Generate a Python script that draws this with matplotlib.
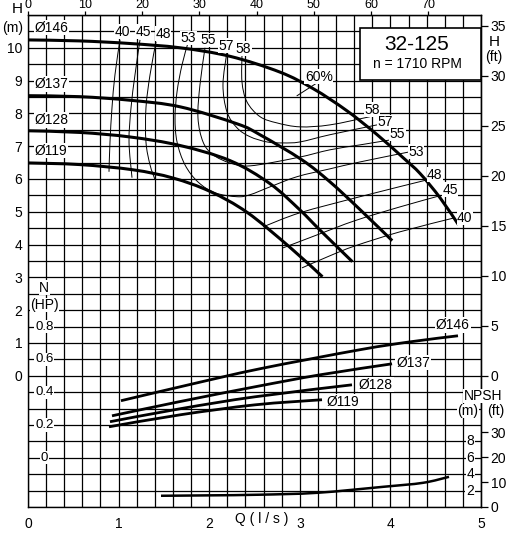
import numpy as np
import matplotlib.pyplot as plt
from matplotlib.patches import Rectangle, PathPatch
from matplotlib.path import Path

plt.rcParams['font.family'] = ['Liberation Sans', 'DejaVu Sans']
plt.rcParams['font.size'] = 10

# H-Q curves, Q in l/s, H in m
q146 = [0, 0.57, 1.13, 1.68, 2.23, 2.78, 3.15, 3.52, 3.85, 4.14, 4.33, 4.55, 4.75]
h146 = [10.24, 10.21, 10.13, 10.0, 9.74, 9.26, 8.75, 8.08, 7.36, 6.65, 6.16, 5.42, 4.61]
q137 = [0, 0.57, 1.13, 1.68, 2.31, 2.56, 3.02, 3.33, 3.66, 4.02]
h137 = [8.54, 8.51, 8.40, 8.20, 7.68, 7.35, 6.59, 5.92, 5.08, 4.12]
q128 = [0, 0.57, 1.13, 1.68, 2.23, 2.67, 3.00, 3.22, 3.58]
h128 = [7.47, 7.42, 7.28, 7.02, 6.56, 5.86, 5.06, 4.45, 3.48]
q119 = [0, 0.57, 1.16, 1.60, 2.01, 2.42, 2.89, 3.25]
h119 = [6.49, 6.44, 6.28, 6.03, 5.62, 4.98, 3.92, 3.02]
h_curves = [(q146, h146), (q137, h137), (q128, h128), (q119, h119)]
diam_labels = ['Ø146', 'Ø137', 'Ø128', 'Ø119']
diam_label_h = [10.61, 8.90, 7.80, 6.86]

# efficiency iso-lines (Q l/s, H m)
eff_lines = {
    '40L': ([1.015, 0.960, 0.927, 0.905, 0.894], [10.24, 9.18, 8.17, 7.13, 6.22]),
    '45L': ([1.236, 1.181, 1.137, 1.115, 1.148], [10.24, 9.18, 8.17, 7.13, 6.04]),
    '48L': ([1.413, 1.347, 1.302, 1.302, 1.347, 1.402], [10.18, 9.18, 8.17, 7.13, 6.43, 5.98]),
    '53': ([1.766, 1.700, 1.645, 1.623, 1.645, 1.733, 1.876, 2.064, 2.307, 2.450, 2.671, 2.969, 3.333, 3.664, 4.216],
           [10.15, 9.48, 8.66, 7.87, 7.13, 6.43, 5.91, 5.58, 5.46, 5.52, 5.76, 6.07, 6.31, 6.52, 6.83]),
    '55': ([1.954, 1.898, 1.876, 1.932, 2.042, 2.230, 2.450, 2.969, 3.333, 3.664, 4.018],
           [10.00, 8.87, 7.87, 7.13, 6.74, 6.49, 6.40, 6.65, 6.89, 7.04, 7.20]),
    '57': ([2.196, 2.152, 2.196, 2.307, 2.450, 2.638, 2.815, 3.002, 3.333, 3.852],
           [9.88, 8.87, 8.05, 7.56, 7.29, 7.13, 7.10, 7.13, 7.35, 7.65]),
    '58': ([2.362, 2.362, 2.417, 2.561, 2.748, 3.002, 3.333, 3.775],
           [9.79, 8.96, 8.35, 7.90, 7.71, 7.59, 7.65, 7.90]),
    '48R': ([2.594, 3.002, 3.664, 4.415], [4.54, 4.97, 5.46, 5.98]),
    '45R': ([2.815, 3.223, 3.609, 4.106, 4.547], [3.90, 4.33, 4.73, 5.15, 5.49]),
    '40R': ([3.024, 3.333, 3.609, 4.106, 4.713], [3.29, 3.66, 3.96, 4.39, 4.82]),
}
eff_top = ['40', '45', '48', '53', '55', '57', '58']
eff_top_q = [1.04, 1.27, 1.49, 1.77, 1.99, 2.19, 2.38]
eff_top_h = [10.49, 10.49, 10.43, 10.30, 10.24, 10.06, 9.97]
eff_right = ['58', '57', '55', '53', '48', '45', '40']
eff_right_q = [3.80, 3.94, 4.08, 4.28, 4.49, 4.66, 4.82]
eff_right_h = [8.11, 7.74, 7.38, 6.83, 6.13, 5.67, 4.82]
mark60_q = [2.97, 3.19]
mark60_h = [8.54, 8.93]

# power curves, N in HP
pq146 = [1.026, 1.788, 2.561, 3.664, 4.216, 4.746]
pn146 = [0.348, 0.447, 0.543, 0.659, 0.707, 0.744]
pq137 = [0.927, 1.678, 2.506, 3.223, 4.018]
pn137 = [0.256, 0.343, 0.433, 0.506, 0.573]
pq128 = [0.905, 1.678, 2.506, 3.576]
pn128 = [0.220, 0.299, 0.372, 0.445]
pq119 = [0.894, 1.678, 2.506, 3.245]
pn119 = [0.189, 0.262, 0.323, 0.354]
p_curves = [(pq146, pn146), (pq137, pn137), (pq128, pn128), (pq119, pn119)]
p_label_q = [4.69, 4.25, 3.84, 3.48]
p_label_n = [0.81, 0.58, 0.446, 0.342]

# NPSH curve, m
npsh_q = [1.468, 2.0, 2.561, 3.190, 3.918, 4.360, 4.647]
npsh_m = [1.37, 1.42, 1.50, 1.73, 2.46, 2.95, 3.68]


def smooth(xs, ys):
    # Catmull-Rom through the read points, drawn as cubic Bezier
    pts = np.column_stack([xs, ys])
    verts = [pts[0]]
    codes = [Path.MOVETO]
    for i in range(len(pts) - 1):
        p0 = pts[i - 1] if i > 0 else pts[i]
        p1 = pts[i]
        p2 = pts[i + 1]
        p3 = pts[i + 2] if i + 2 < len(pts) else pts[i + 1]
        verts += [p1 + (p2 - p0) / 6, p2 - (p3 - p1) / 6, p2]
        codes += [Path.CURVE4] * 3
    return Path(verts, codes)


def draw(axis, xs, ys, lw, z=3):
    axis.add_patch(PathPatch(smooth(xs, ys), fill=False, edgecolor='black',
                             lw=lw, zorder=z, capstyle='butt'))


fig = plt.figure(figsize=(5.13, 5.33), dpi=100)
ax = fig.add_axes([28/513, 1-507/533, 453/513, 492/533])
ax.set_xlim(0, 5)
ax.set_ylim(-4, 11)

ax.set_xticks(range(0, 6))
ax.set_xticks(np.arange(0, 5.01, 0.2), minor=True)
ax.set_yticks(range(0, 11))
ax.set_yticks(np.arange(-4, 11.01, 0.5), minor=True)
ax.grid(which='both', color='black', lw=0.9)
ax.tick_params(which='both', length=0)
ax.tick_params(axis='x', pad=7)
ax.tick_params(axis='y', pad=4)
for s in ax.spines.values():
    s.set_linewidth(1.0)

# top axis in US gpm
top = ax.secondary_xaxis('top', functions=(lambda q: q*15.85, lambda g: g/15.85))
top.set_xticks(range(0, 80, 10))
top.tick_params(length=3, width=0.9, pad=0, labelsize=9)

# right axes: H ft and NPSH ft
rh = ax.secondary_yaxis('right', functions=(lambda h: h/0.3048, lambda f: f*0.3048))
rh.set_yticks(range(0, 40, 5))
rh.tick_params(length=5, width=0.9, pad=2)
rn = ax.secondary_yaxis('right', functions=(lambda h: (h+4)/0.0762, lambda f: f*0.0762-4))
rn.set_yticks([0, 10, 20, 30])
rn.tick_params(length=5, width=0.9, pad=2)

for (q, h) in h_curves:
    draw(ax, q, h, 2.2, z=4)
for lab, hh in zip(diam_labels, diam_label_h):
    ax.text(0.07, hh, lab, ha='left', va='center', fontsize=10,
            bbox=dict(facecolor='white', edgecolor='none', pad=0.5), zorder=5)

for key, (q, h) in eff_lines.items():
    draw(ax, q, h, 0.7)
for lab, q, h in zip(eff_top, eff_top_q, eff_top_h):
    ax.text(q, h, lab, ha='center', va='center', fontsize=10,
            bbox=dict(facecolor='white', edgecolor='none', pad=0.3), zorder=5)
for lab, q, h in zip(eff_right, eff_right_q, eff_right_h):
    ax.text(q, h, lab, ha='center', va='center', fontsize=10,
            bbox=dict(facecolor='white', edgecolor='none', pad=0.3), zorder=5)
ax.plot(mark60_q, mark60_h, color='black', lw=0.7, zorder=3)
ax.text(3.21, 9.12, '60%', ha='center', va='center', fontsize=10,
        bbox=dict(facecolor='white', edgecolor='none', pad=0.3), zorder=5)

# type box
ax.add_patch(Rectangle((3.664, 9.02), 5 - 3.664, 10.61 - 9.02, facecolor='white',
                       edgecolor='black', lw=1.2, zorder=6))
ax.text(4.29, 10.11, '32-125', ha='center', va='center', fontsize=15, zorder=7)
ax.text(4.30, 9.51, 'n = 1710 RPM', ha='center', va='center', fontsize=10, zorder=7)

# power axis
axn = ax.twinx()
axn.set_ylim(-0.3, 2.7)
axn.axis('off')
for (q, n) in p_curves:
    draw(axn, q, n, 2.0)
for lab, q, n in zip(diam_labels, p_label_q, p_label_n):
    axn.text(q, n, lab, ha='center', va='center', fontsize=10,
             bbox=dict(facecolor='white', edgecolor='none', pad=0.5))
for v in [0, 0.2, 0.4, 0.6, 0.8]:
    axn.text(0.18, v, f'{v:g}', ha='center', va='center', fontsize=9.5,
             bbox=dict(facecolor='white', edgecolor='none', pad=0.5))
axn.text(0.18, 1.037, 'N', ha='center', va='center', fontsize=10,
         bbox=dict(facecolor='white', edgecolor='none', pad=0.2))
axn.text(0.18, 0.933, '(HP)', ha='center', va='center', fontsize=10,
         bbox=dict(facecolor='white', edgecolor='none', pad=0.2))

# NPSH axis
axp = ax.twinx()
axp.set_ylim(0, 60)
axp.axis('off')
draw(axp, npsh_q, npsh_m, 1.8)
for v in [2, 4, 6, 8]:
    axp.text(4.88, v, str(v), ha='center', va='center', fontsize=10,
             bbox=dict(facecolor='white', edgecolor='none', pad=0.5))

fig.text(17/513, 1-9/533, 'H', ha='center', va='center', fontsize=11)
fig.text(13/513, 1-28/533, '(m)', ha='center', va='center', fontsize=10)
fig.text(494/513, 1-42/533, 'H', ha='center', va='center', fontsize=11)
fig.text(494/513, 1-57/533, '(ft)', ha='center', va='center', fontsize=10)
fig.text(483/513, 1-396/533, 'NPSH', ha='center', va='center', fontsize=10,
         bbox=dict(facecolor='white', edgecolor='none', pad=0.3))
fig.text(468/513, 1-411/533, '(m)', ha='center', va='center', fontsize=10,
         bbox=dict(facecolor='white', edgecolor='none', pad=0.3))
fig.text(496/513, 1-411/533, '(ft)', ha='center', va='center', fontsize=10,
         bbox=dict(facecolor='white', edgecolor='none', pad=0.3))
fig.text(262/513, 1-519/533, 'Q ( l / s )', ha='center', va='center', fontsize=10)

fig.savefig('out.png', dpi=100)
